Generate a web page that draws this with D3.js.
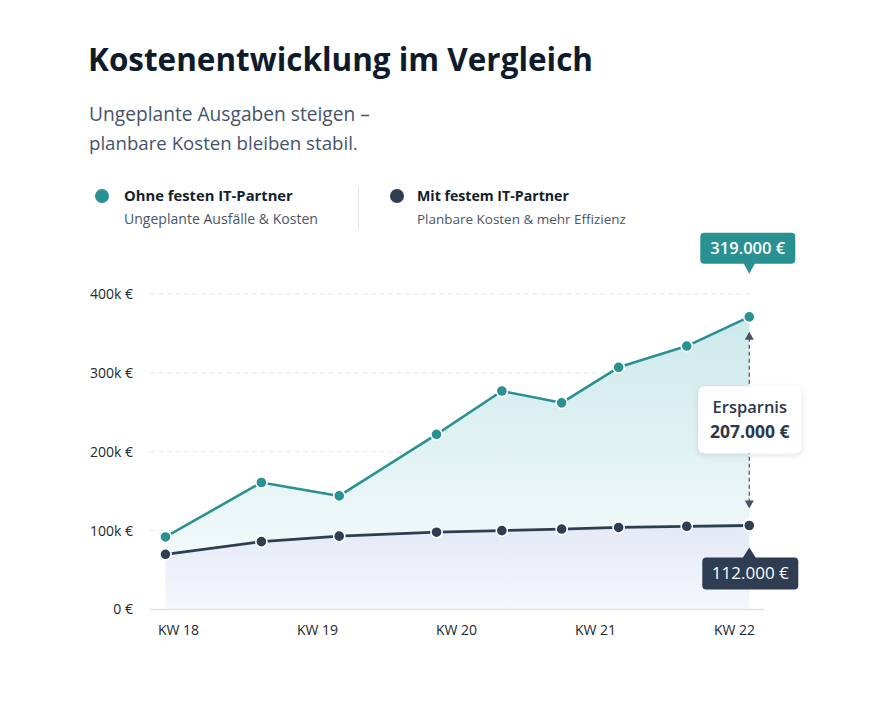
<!DOCTYPE html>
<html><head><meta charset="utf-8">
<script src="https://cdn.jsdelivr.net/npm/d3@7"></script>
<style>
html,body{margin:0;padding:0;background:#fff;}
svg{display:block;font-family:"Open Sans","Noto Sans",sans-serif;}
</style></head><body>
<svg id="chart" width="876" height="701"></svg>
<script>
// ---- data ----
const weeks = [17.91, 18.60, 19.16, 19.86, 20.33, 20.76, 21.17, 21.66, 22.11];
const ohneValues = [92000, 161000, 144000, 222000, 277000, 262000, 307000, 334000, 371000];
const mitValues = [70000, 86000, 93000, 98000, 100000, 102000, 104000, 105500, 106500];
const weekTicks = [18, 19, 20, 21, 22];
const weekLabels = ["KW 18", "KW 19", "KW 20", "KW 21", "KW 22"];
const yTicks = [0, 100000, 200000, 300000, 400000];
const yTickLabels = ["0 €", "100k €", "200k €", "300k €", "400k €"];
const seriesNames = ["Ohne festen IT-Partner", "Mit festem IT-Partner"];
const seriesNotes = ["Ungeplante Ausfälle & Kosten", "Planbare Kosten & mehr Effizienz"];
const titleText = "Kostenentwicklung im Vergleich";
const subtitleLines = ["Ungeplante Ausgaben steigen –", "planbare Kosten bleiben stabil."];
const calloutTop = "319.000 €";
const calloutBottom = "112.000 €";
const savingsLines = ["Ersparnis", "207.000 €"];

const TEAL = "#2a9192", NAVY = "#2e3d51";

const svg = d3.select("#chart");
function fit(sel, w) {
  const fs = parseFloat(sel.attr("font-size"));
  const m = sel.node().getComputedTextLength();
  sel.attr("font-size", (fs * w / m).toFixed(2));
  return sel;
}

// defs
const defs = svg.append("defs");
const g1 = defs.append("linearGradient").attr("id", "gTeal").attr("x1", 0).attr("y1", 0).attr("x2", 0).attr("y2", 1);
g1.append("stop").attr("offset", "0%").attr("stop-color", "#cde9ec");
g1.append("stop").attr("offset", "100%").attr("stop-color", "#f2f9fa");
const g2 = defs.append("linearGradient").attr("id", "gNavy").attr("x1", 0).attr("y1", 0).attr("x2", 0).attr("y2", 1);
g2.append("stop").attr("offset", "0%").attr("stop-color", "#e3e9f6");
g2.append("stop").attr("offset", "100%").attr("stop-color", "#f5f7fc");
const sh = defs.append("filter").attr("id", "shadow").attr("x", "-30%").attr("y", "-30%").attr("width", "160%").attr("height", "160%");
sh.append("feDropShadow").attr("dx", 0).attr("dy", 2).attr("stdDeviation", 3).attr("flood-color", "#1a2b3c").attr("flood-opacity", 0.12);

// ---- header ----
fit(svg.append("text").attr("x", 88).attr("y", 71).attr("font-size", 29).attr("font-weight", 700)
  .attr("fill", "#0f1b2a").text(titleText), 505);
fit(svg.append("text").attr("x", 89).attr("y", 121).attr("font-size", 19).attr("fill", "#45546a").text(subtitleLines[0]), 281);
fit(svg.append("text").attr("x", 89).attr("y", 150).attr("font-size", 19).attr("fill", "#45546a").text(subtitleLines[1]), 269);

// legend
const legX = [102, 397], legTextX = [124, 417];
const legW = [[169, 194], [152, 209]];
[TEAL, NAVY].forEach((c, i) => {
  svg.append("circle").attr("cx", legX[i]).attr("cy", 196).attr("r", 7).attr("fill", c);
  fit(svg.append("text").attr("x", legTextX[i]).attr("y", 201).attr("font-size", 14).attr("font-weight", 700)
    .attr("fill", "#141e2c").text(seriesNames[i]), legW[i][0]);
  fit(svg.append("text").attr("x", legTextX[i]).attr("y", 224).attr("font-size", 13).attr("fill", "#4a5568")
    .text(seriesNotes[i]), legW[i][1]);
});
svg.append("line").attr("x1", 358.5).attr("x2", 358.5).attr("y1", 186).attr("y2", 230).attr("stroke", "#e3e7ec").attr("stroke-width", 1.2);

// ---- scales ----
const x = d3.scaleLinear().domain([18, 22]).range([178, 734]);
const y = d3.scaleLinear().domain([0, 400000]).range([609.5, 294]);
const plotL = 150, plotR = 764;

// gridlines
svg.append("g").selectAll("line").data(yTicks.filter(d => d > 0)).join("line")
  .attr("x1", plotL).attr("x2", 750).attr("y1", d => y(d)).attr("y2", d => y(d))
  .attr("stroke", "#e4e7eb").attr("stroke-width", 1).attr("stroke-dasharray", "5,3.5");

const pts = weeks.map((w, i) => ({ w, a: ohneValues[i], b: mitValues[i] }));

// areas
svg.append("path").datum(pts).attr("fill", "url(#gTeal)")
  .attr("d", d3.area().x(d => x(d.w)).y0(d => y(d.b)).y1(d => y(d.a)));
svg.append("path").datum(pts).attr("fill", "url(#gNavy)")
  .attr("d", d3.area().x(d => x(d.w)).y0(y(0)).y1(d => y(d.b)));

// axis line
svg.append("line").attr("x1", plotL).attr("x2", plotR).attr("y1", y(0)).attr("y2", y(0))
  .attr("stroke", "#dde1e6").attr("stroke-width", 1.3);

// y axis
const yAxis = svg.append("g").attr("transform", `translate(${plotL},0)`)
  .call(d3.axisLeft(y).tickValues(yTicks).tickSize(0).tickPadding(17)
    .tickFormat((d, i) => yTickLabels[i]));
yAxis.select(".domain").remove();
yAxis.selectAll("text").attr("font-size", 14).attr("fill", "#23272e").attr("font-family", "'Open Sans','Noto Sans',sans-serif");

// x axis
const xAxis = svg.append("g").attr("transform", `translate(0,${y(0)})`)
  .call(d3.axisBottom(x).tickValues(weekTicks).tickSize(0).tickPadding(16)
    .tickFormat((d, i) => weekLabels[i]));
xAxis.select(".domain").remove();
xAxis.selectAll("text").attr("font-size", 14).attr("fill", "#23272e").attr("font-family", "'Open Sans','Noto Sans',sans-serif");

// lines
svg.append("path").datum(pts).attr("fill", "none").attr("stroke", TEAL).attr("stroke-width", 2.6)
  .attr("stroke-linejoin", "round").attr("d", d3.line().x(d => x(d.w)).y(d => y(d.a)));
svg.append("path").datum(pts).attr("fill", "none").attr("stroke", NAVY).attr("stroke-width", 2.8)
  .attr("stroke-linejoin", "round").attr("d", d3.line().x(d => x(d.w)).y(d => y(d.b)));

// points
svg.append("g").selectAll("circle").data(pts).join("circle")
  .attr("cx", d => x(d.w)).attr("cy", d => y(d.a)).attr("r", 5.6)
  .attr("fill", TEAL).attr("stroke", "#fff").attr("stroke-width", 1.6);
svg.append("g").selectAll("circle").data(pts).join("circle")
  .attr("cx", d => x(d.w)).attr("cy", d => y(d.b)).attr("r", 5.6)
  .attr("fill", NAVY).attr("stroke", "#fff").attr("stroke-width", 1.6);

// ---- annotations ----
const last = pts[pts.length - 1];
const lx = x(last.w), ya = y(last.a), yb = y(last.b);

// top callout
const tTip = ya - 43;
svg.append("rect").attr("x", lx - 49).attr("y", tTip - 41).attr("width", 95).attr("height", 31).attr("rx", 4)
  .attr("fill", TEAL);
svg.append("path").attr("d", `M${lx - 6},${tTip - 11}L${lx},${tTip}L${lx + 6},${tTip - 11}Z`).attr("fill", TEAL);
svg.append("text").attr("x", lx - 1.5).attr("y", tTip - 19.5).attr("text-anchor", "middle").attr("font-size", 16.5)
  .attr("font-weight", 600).attr("fill", "#fff").text(calloutTop);

// bottom callout
const bTip = yb + 22;
svg.append("path").attr("d", `M${lx - 7},${bTip + 11}L${lx},${bTip}L${lx + 7},${bTip + 11}Z`).attr("fill", NAVY);
svg.append("rect").attr("x", lx - 47).attr("y", bTip + 10).attr("width", 96).attr("height", 32).attr("rx", 4)
  .attr("fill", NAVY);
svg.append("text").attr("x", lx + 1).attr("y", bTip + 32).attr("text-anchor", "middle").attr("font-size", 17)
  .attr("font-weight", 500).attr("fill", "#fff").text(calloutBottom);

// dashed arrow
const arrTop = ya + 15, arrBot = yb - 17;
svg.append("line").attr("x1", lx).attr("x2", lx).attr("y1", arrTop + 6).attr("y2", arrBot - 6)
  .attr("stroke", "#56606d").attr("stroke-width", 1.3).attr("stroke-dasharray", "4,3");
svg.append("path").attr("d", `M${lx - 4.5},${arrTop + 8}L${lx},${arrTop}L${lx + 4.5},${arrTop + 8}Z`).attr("fill", "#4a5461");
svg.append("path").attr("d", `M${lx - 4.5},${arrBot - 8}L${lx},${arrBot}L${lx + 4.5},${arrBot - 8}Z`).attr("fill", "#4a5461");

// savings box
const mid = (ya + yb) / 2;
svg.append("rect").attr("x", lx - 51).attr("y", mid - 35).attr("width", 103).attr("height", 67).attr("rx", 6)
  .attr("fill", "#fff").attr("filter", "url(#shadow)");
svg.append("text").attr("x", lx + 0.5).attr("y", mid - 8).attr("text-anchor", "middle").attr("font-size", 16.5)
  .attr("font-weight", 600).attr("fill", "#2c3848").text(savingsLines[0]);
svg.append("text").attr("x", lx + 0.5).attr("y", mid + 17).attr("text-anchor", "middle").attr("font-size", 17.5)
  .attr("font-weight", 700).attr("fill", "#2c3848").text(savingsLines[1]);
</script>
</body></html>
